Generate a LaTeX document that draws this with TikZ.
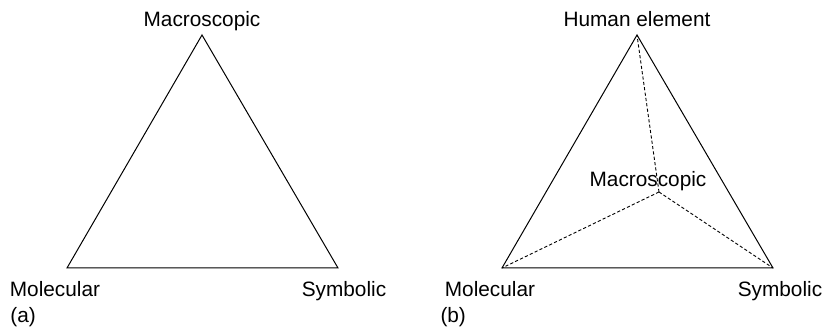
\documentclass[tikz,border=0pt]{standalone}
\usepackage{fontspec}
\setmainfont{Liberation Sans}
\usetikzlibrary{positioning}

\begin{document}
\begin{tikzpicture}[x=0.5pt,y=0.5pt,line width=0.5pt,
    lab/.style={inner sep=0pt,anchor=base,font=\fontsize{10.4}{12}\selectfont},
    hid/.style={dashed,dash pattern=on 1.6pt off 1.1pt,line width=0.45pt}]
  \useasboundingbox (0,0) rectangle (826,331);
  % (a) plain triangle
  \coordinate (aT) at (202,296);
  \coordinate (aL) at (67,63);
  \coordinate (aR) at (338,63);
  \draw (aT) -- (aL) -- (aR) -- cycle;
  \node[lab] (aMac) at (202,304) {Macroscopic};
  \node[lab] (aMol) at (55,34) {Molecular};
  \node[lab] (aSym) at (344,34) {Symbolic};
  \node[lab,anchor=base west] (aTag) at (10,8) {(a)};
  % (b) tetrahedron
  \coordinate (bT) at (637,296);
  \coordinate (bL) at (502,63);
  \coordinate (bR) at (773,63);
  \coordinate (bC) at (659,139);
  \draw (bT) -- (bL) -- (bR) -- cycle;
  \foreach \v in {bT,bL,bR} \draw[hid] (bC) -- (\v);
  \node[lab] (bHum) at (637,304) {Human element};
  \node[lab] (bMac) at (648,144) {Macroscopic};
  \node[lab] (bMol) at (490,34) {Molecular};
  \node[lab] (bSym) at (780,34) {Symbolic};
  \node[lab,anchor=base west] (bTag) at (440,8) {(b)};
\end{tikzpicture}
\end{document}
